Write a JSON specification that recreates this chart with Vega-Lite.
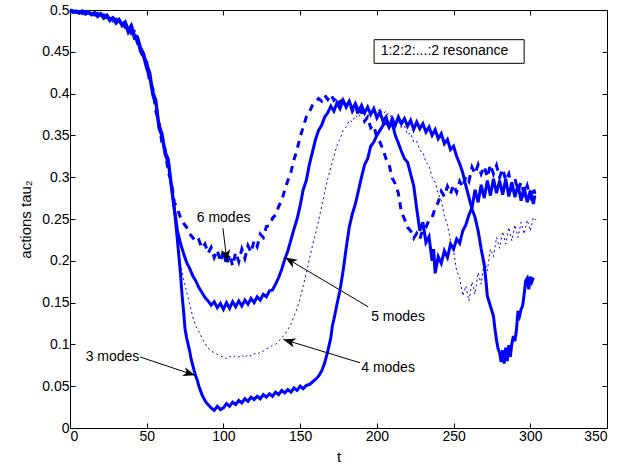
{
  "$schema": "https://vega.github.io/schema/vega-lite/v6.json",
  "width": 537,
  "height": 418,
  "autosize": "none",
  "padding": {"left": 70, "top": 10, "right": 12, "bottom": 42},
  "background": "white",
  "config": {
    "font": "Liberation Sans",
    "view": {"stroke": null},
    "axis": {
      "domainColor": "black", "tickColor": "black", "labelColor": "black", "titleColor": "black",
      "labelFont": "Liberation Sans", "titleFont": "Liberation Sans",
      "labelFontSize": 14, "titleFontSize": 15, "titleFontWeight": "normal",
      "grid": false, "tickSize": -5, "domainWidth": 1, "tickWidth": 1
    }
  },
  "datasets": {
    "s3": [
      {"t":0,"v":0.500},{"t":2,"v":0.498},{"t":4,"v":0.499},{"t":6,"v":0.497},{"t":8,"v":0.499},{"t":10,"v":0.496},{"t":12,"v":0.498},{"t":14,"v":0.495},{"t":16,"v":0.497},{"t":18,"v":0.494},{"t":20,"v":0.496},{"t":22,"v":0.492},{"t":24,"v":0.494},{"t":26,"v":0.489},{"t":28,"v":0.491},{"t":30,"v":0.486},{"t":32,"v":0.489},{"t":34,"v":0.483},{"t":36,"v":0.486},{"t":38,"v":0.476},{"t":40,"v":0.482},{"t":42,"v":0.470},{"t":44,"v":0.468},{"t":46,"v":0.455},{"t":48,"v":0.448},{"t":50,"v":0.435},{"t":52,"v":0.425},{"t":54,"v":0.402},{"t":56,"v":0.392},{"t":58,"v":0.362},{"t":60,"v":0.352},{"t":62,"v":0.330},{"t":64,"v":0.322},{"t":66,"v":0.292},{"t":68,"v":0.262},
      {"t":70,"v":0.225},{"t":71,"v":0.205},{"t":72,"v":0.185},{"t":73,"v":0.160},{"t":74,"v":0.140},{"t":75,"v":0.118},{"t":76,"v":0.108},{"t":77,"v":0.100},{"t":78,"v":0.092},{"t":79,"v":0.082},{"t":80,"v":0.075},{"t":81,"v":0.068},{"t":82,"v":0.062},{"t":83,"v":0.057},{"t":84,"v":0.050},{"t":85,"v":0.045},{"t":86,"v":0.040},{"t":87,"v":0.036},{"t":88,"v":0.033},{"t":89,"v":0.030},{"t":90,"v":0.028},{"t":92,"v":0.024},{"t":94,"v":0.021},{"t":96,"v":0.026},{"t":98,"v":0.022},{"t":100,"v":0.024},{"t":102,"v":0.029},{"t":104,"v":0.026},{"t":106,"v":0.031},{"t":108,"v":0.028},{"t":110,"v":0.033},{"t":112,"v":0.030},{"t":114,"v":0.035},{"t":116,"v":0.032},{"t":118,"v":0.037},{"t":120,"v":0.034},{"t":122,"v":0.038},{"t":124,"v":0.035},{"t":126,"v":0.040},{"t":128,"v":0.037},{"t":130,"v":0.041},{"t":132,"v":0.038},{"t":134,"v":0.043},{"t":136,"v":0.040},{"t":138,"v":0.045},{"t":140,"v":0.042},{"t":142,"v":0.046},{"t":144,"v":0.043},{"t":146,"v":0.048},{"t":148,"v":0.045},{"t":150,"v":0.050},{"t":152,"v":0.047},{"t":154,"v":0.051},{"t":156,"v":0.052},{"t":158,"v":0.055},{"t":160,"v":0.058},{"t":162,"v":0.062},{"t":164,"v":0.068},{"t":166,"v":0.078},{"t":168,"v":0.092},{"t":170,"v":0.108},{"t":171,"v":0.122},{"t":172,"v":0.130},{"t":174,"v":0.148},{"t":176,"v":0.165},{"t":178,"v":0.188},{"t":180,"v":0.215},{"t":182,"v":0.240},{"t":184,"v":0.256},{"t":186,"v":0.268},{"t":188,"v":0.284},{"t":190,"v":0.300},{"t":192,"v":0.315},{"t":194,"v":0.322},{"t":196,"v":0.337},{"t":198,"v":0.342},{"t":200,"v":0.350},{"t":202,"v":0.356},{"t":204,"v":0.362},{"t":206,"v":0.366},{"t":208,"v":0.360},{"t":210,"v":0.370},{"t":212,"v":0.362},{"t":214,"v":0.372},{"t":216,"v":0.364},{"t":218,"v":0.370},{"t":220,"v":0.361},{"t":222,"v":0.368},{"t":224,"v":0.357},{"t":226,"v":0.366},{"t":228,"v":0.358},{"t":230,"v":0.364},{"t":232,"v":0.354},{"t":234,"v":0.360},{"t":236,"v":0.350},{"t":238,"v":0.357},{"t":240,"v":0.346},{"t":242,"v":0.352},{"t":244,"v":0.340},{"t":246,"v":0.345},{"t":248,"v":0.333},{"t":250,"v":0.337},{"t":252,"v":0.325},{"t":254,"v":0.316},{"t":256,"v":0.305},{"t":258,"v":0.290},{"t":260,"v":0.276},{"t":262,"v":0.262},{"t":264,"v":0.252},{"t":266,"v":0.236},{"t":268,"v":0.214},{"t":270,"v":0.195},{"t":271,"v":0.178},{"t":272,"v":0.158},{"t":274,"v":0.146},{"t":276,"v":0.134},{"t":277,"v":0.118},{"t":278,"v":0.105},{"t":279,"v":0.095},{"t":280,"v":0.090},{"t":281,"v":0.079},{"t":282,"v":0.093},{"t":283,"v":0.077},{"t":284,"v":0.096},{"t":285,"v":0.080},{"t":286,"v":0.099},{"t":287,"v":0.085},{"t":288,"v":0.101},{"t":289,"v":0.110},{"t":290,"v":0.104},{"t":291,"v":0.118},{"t":292,"v":0.140},{"t":293,"v":0.134},{"t":294,"v":0.142},{"t":295,"v":0.146},{"t":296,"v":0.160},{"t":297,"v":0.176},{"t":298,"v":0.179},{"t":299,"v":0.166},{"t":300,"v":0.181},{"t":301,"v":0.175},{"t":302,"v":0.180}
    ],
    "s5": [
      {"t":0,"v":0.499},{"t":2,"v":0.497},{"t":4,"v":0.498},{"t":6,"v":0.496},{"t":8,"v":0.498},{"t":10,"v":0.495},{"t":12,"v":0.497},{"t":14,"v":0.494},{"t":16,"v":0.496},{"t":18,"v":0.492},{"t":20,"v":0.495},{"t":22,"v":0.490},{"t":24,"v":0.493},{"t":26,"v":0.487},{"t":28,"v":0.490},{"t":30,"v":0.484},{"t":32,"v":0.488},{"t":34,"v":0.481},{"t":36,"v":0.484},{"t":38,"v":0.473},{"t":40,"v":0.479},{"t":42,"v":0.466},{"t":44,"v":0.465},{"t":46,"v":0.450},{"t":48,"v":0.444},{"t":50,"v":0.430},{"t":52,"v":0.420},{"t":54,"v":0.398},{"t":56,"v":0.388},{"t":58,"v":0.358},{"t":60,"v":0.349},{"t":62,"v":0.327},{"t":64,"v":0.318},{"t":66,"v":0.289},{"t":68,"v":0.262},
      {"t":69,"v":0.250},{"t":70,"v":0.236},{"t":72,"v":0.221},{"t":74,"v":0.209},{"t":76,"v":0.198},{"t":78,"v":0.191},{"t":80,"v":0.182},{"t":82,"v":0.176},{"t":84,"v":0.168},{"t":86,"v":0.162},{"t":88,"v":0.156},{"t":90,"v":0.152},{"t":92,"v":0.147},{"t":94,"v":0.151},{"t":96,"v":0.144},{"t":98,"v":0.149},{"t":100,"v":0.142},{"t":102,"v":0.150},{"t":104,"v":0.143},{"t":106,"v":0.151},{"t":108,"v":0.145},{"t":110,"v":0.152},{"t":112,"v":0.146},{"t":114,"v":0.153},{"t":116,"v":0.148},{"t":118,"v":0.155},{"t":120,"v":0.150},{"t":122,"v":0.157},{"t":124,"v":0.153},{"t":126,"v":0.160},{"t":128,"v":0.157},{"t":130,"v":0.164},{"t":132,"v":0.165},{"t":134,"v":0.172},{"t":136,"v":0.180},{"t":138,"v":0.190},{"t":140,"v":0.202},{"t":142,"v":0.212},{"t":144,"v":0.225},{"t":146,"v":0.238},{"t":148,"v":0.250},{"t":150,"v":0.266},{"t":152,"v":0.285},{"t":154,"v":0.296},{"t":156,"v":0.315},{"t":158,"v":0.330},{"t":160,"v":0.345},{"t":162,"v":0.356},{"t":164,"v":0.362},{"t":166,"v":0.372},{"t":168,"v":0.377},{"t":170,"v":0.385},{"t":172,"v":0.379},{"t":174,"v":0.389},{"t":176,"v":0.382},{"t":178,"v":0.392},{"t":180,"v":0.384},{"t":182,"v":0.391},{"t":184,"v":0.381},{"t":186,"v":0.388},{"t":188,"v":0.379},{"t":190,"v":0.386},{"t":192,"v":0.377},{"t":194,"v":0.384},{"t":196,"v":0.375},{"t":198,"v":0.382},{"t":200,"v":0.371},{"t":202,"v":0.378},{"t":204,"v":0.367},{"t":206,"v":0.372},{"t":208,"v":0.360},{"t":210,"v":0.365},{"t":212,"v":0.350},{"t":214,"v":0.341},{"t":216,"v":0.331},{"t":218,"v":0.322},{"t":220,"v":0.318},{"t":222,"v":0.304},{"t":224,"v":0.290},{"t":226,"v":0.262},{"t":228,"v":0.236},{"t":230,"v":0.246},{"t":232,"v":0.222},{"t":234,"v":0.229},{"t":236,"v":0.200},{"t":237,"v":0.214},{"t":238,"v":0.185},{"t":240,"v":0.205},{"t":242,"v":0.197},{"t":244,"v":0.212},{"t":246,"v":0.204},{"t":248,"v":0.220},{"t":250,"v":0.214},{"t":252,"v":0.226},{"t":254,"v":0.221},{"t":256,"v":0.236},{"t":258,"v":0.243},{"t":260,"v":0.255},{"t":262,"v":0.263},{"t":264,"v":0.285},{"t":266,"v":0.270},{"t":268,"v":0.291},{"t":270,"v":0.275},{"t":272,"v":0.296},{"t":274,"v":0.278},{"t":276,"v":0.298},{"t":278,"v":0.281},{"t":280,"v":0.296},{"t":282,"v":0.279},{"t":284,"v":0.298},{"t":286,"v":0.277},{"t":288,"v":0.294},{"t":290,"v":0.276},{"t":292,"v":0.291},{"t":294,"v":0.272},{"t":296,"v":0.288},{"t":298,"v":0.270},{"t":300,"v":0.284},{"t":302,"v":0.268},{"t":303,"v":0.278}
    ],
    "s6": [
      {"t":0,"v":0.500},{"t":2,"v":0.499},{"t":4,"v":0.497},{"t":6,"v":0.499},{"t":8,"v":0.496},{"t":10,"v":0.498},{"t":12,"v":0.495},{"t":14,"v":0.497},{"t":16,"v":0.494},{"t":18,"v":0.496},{"t":20,"v":0.493},{"t":22,"v":0.494},{"t":24,"v":0.491},{"t":26,"v":0.492},{"t":28,"v":0.487},{"t":30,"v":0.489},{"t":32,"v":0.484},{"t":34,"v":0.486},{"t":36,"v":0.479},{"t":38,"v":0.480},{"t":40,"v":0.472},{"t":42,"v":0.474},{"t":44,"v":0.460},{"t":46,"v":0.458},{"t":48,"v":0.440},{"t":50,"v":0.438},{"t":52,"v":0.412},{"t":54,"v":0.406},{"t":56,"v":0.378},{"t":58,"v":0.366},{"t":60,"v":0.340},{"t":62,"v":0.334},{"t":64,"v":0.306},{"t":66,"v":0.296},{"t":68,"v":0.270},
      {"t":70,"v":0.262},{"t":72,"v":0.252},{"t":74,"v":0.245},{"t":76,"v":0.240},{"t":78,"v":0.232},{"t":80,"v":0.228},{"t":82,"v":0.222},{"t":84,"v":0.225},{"t":86,"v":0.215},{"t":88,"v":0.220},{"t":90,"v":0.209},{"t":92,"v":0.216},{"t":94,"v":0.204},{"t":96,"v":0.213},{"t":98,"v":0.199},{"t":100,"v":0.212},{"t":102,"v":0.195},{"t":104,"v":0.208},{"t":106,"v":0.194},{"t":108,"v":0.210},{"t":110,"v":0.199},{"t":112,"v":0.214},{"t":114,"v":0.203},{"t":116,"v":0.218},{"t":118,"v":0.210},{"t":120,"v":0.224},{"t":122,"v":0.217},{"t":124,"v":0.232},{"t":126,"v":0.228},{"t":128,"v":0.241},{"t":130,"v":0.242},{"t":132,"v":0.251},{"t":134,"v":0.255},{"t":136,"v":0.265},{"t":138,"v":0.272},{"t":140,"v":0.285},{"t":142,"v":0.296},{"t":144,"v":0.306},{"t":146,"v":0.321},{"t":148,"v":0.333},{"t":150,"v":0.348},{"t":152,"v":0.360},{"t":154,"v":0.372},{"t":156,"v":0.378},{"t":158,"v":0.386},{"t":160,"v":0.390},{"t":162,"v":0.394},{"t":164,"v":0.391},{"t":166,"v":0.398},{"t":168,"v":0.393},{"t":170,"v":0.399},{"t":172,"v":0.392},{"t":174,"v":0.396},{"t":176,"v":0.389},{"t":178,"v":0.394},{"t":180,"v":0.385},{"t":182,"v":0.390},{"t":184,"v":0.379},{"t":186,"v":0.386},{"t":188,"v":0.373},{"t":190,"v":0.380},{"t":192,"v":0.367},{"t":194,"v":0.372},{"t":196,"v":0.359},{"t":198,"v":0.362},{"t":200,"v":0.347},{"t":202,"v":0.342},{"t":204,"v":0.333},{"t":206,"v":0.322},{"t":208,"v":0.315},{"t":210,"v":0.299},{"t":212,"v":0.292},{"t":214,"v":0.281},{"t":216,"v":0.258},{"t":218,"v":0.250},{"t":220,"v":0.240},{"t":222,"v":0.236},{"t":224,"v":0.227},{"t":226,"v":0.233},{"t":228,"v":0.226},{"t":230,"v":0.238},{"t":232,"v":0.240},{"t":234,"v":0.249},{"t":236,"v":0.252},{"t":238,"v":0.263},{"t":240,"v":0.270},{"t":242,"v":0.283},{"t":244,"v":0.277},{"t":246,"v":0.289},{"t":248,"v":0.280},{"t":250,"v":0.291},{"t":252,"v":0.282},{"t":254,"v":0.295},{"t":256,"v":0.288},{"t":258,"v":0.301},{"t":260,"v":0.295},{"t":262,"v":0.312},{"t":264,"v":0.304},{"t":266,"v":0.315},{"t":268,"v":0.304},{"t":270,"v":0.313},{"t":272,"v":0.300},{"t":274,"v":0.315},{"t":276,"v":0.304},{"t":278,"v":0.314},{"t":280,"v":0.300},{"t":282,"v":0.310},{"t":284,"v":0.296},{"t":286,"v":0.304},{"t":288,"v":0.288},{"t":290,"v":0.298},{"t":292,"v":0.284},{"t":294,"v":0.294},{"t":296,"v":0.280},{"t":298,"v":0.290},{"t":300,"v":0.277},{"t":302,"v":0.288},{"t":303,"v":0.280}
    ],
    "s4": [
      {"t":0,"v":0.499},{"t":2,"v":0.498},{"t":4,"v":0.498},{"t":6,"v":0.497},{"t":8,"v":0.497},{"t":10,"v":0.496},{"t":12,"v":0.496},{"t":14,"v":0.495},{"t":16,"v":0.495},{"t":18,"v":0.494},{"t":20,"v":0.493},{"t":22,"v":0.492},{"t":24,"v":0.491},{"t":26,"v":0.489},{"t":28,"v":0.488},{"t":30,"v":0.486},{"t":32,"v":0.485},{"t":34,"v":0.483},{"t":36,"v":0.481},{"t":38,"v":0.478},{"t":40,"v":0.475},{"t":42,"v":0.470},{"t":44,"v":0.463},{"t":46,"v":0.455},{"t":48,"v":0.445},{"t":50,"v":0.434},{"t":52,"v":0.420},{"t":54,"v":0.403},{"t":56,"v":0.386},{"t":58,"v":0.366},{"t":60,"v":0.348},{"t":62,"v":0.330},{"t":64,"v":0.312},{"t":66,"v":0.290},{"t":68,"v":0.262},
      {"t":70,"v":0.225},{"t":72,"v":0.196},{"t":74,"v":0.178},{"t":76,"v":0.163},{"t":78,"v":0.148},{"t":80,"v":0.133},{"t":82,"v":0.122},{"t":84,"v":0.115},{"t":86,"v":0.108},{"t":88,"v":0.101},{"t":90,"v":0.096},{"t":92,"v":0.092},{"t":94,"v":0.090},{"t":96,"v":0.088},{"t":98,"v":0.086},{"t":100,"v":0.085},{"t":102,"v":0.083},{"t":104,"v":0.086},{"t":106,"v":0.084},{"t":108,"v":0.087},{"t":110,"v":0.085},{"t":112,"v":0.087},{"t":114,"v":0.084},{"t":116,"v":0.088},{"t":118,"v":0.086},{"t":120,"v":0.089},{"t":122,"v":0.088},{"t":124,"v":0.091},{"t":126,"v":0.092},{"t":128,"v":0.095},{"t":130,"v":0.096},{"t":132,"v":0.099},{"t":134,"v":0.100},{"t":136,"v":0.104},{"t":138,"v":0.108},{"t":140,"v":0.112},{"t":142,"v":0.118},{"t":144,"v":0.124},{"t":146,"v":0.134},{"t":148,"v":0.143},{"t":150,"v":0.155},{"t":152,"v":0.170},{"t":154,"v":0.185},{"t":156,"v":0.202},{"t":158,"v":0.218},{"t":160,"v":0.232},{"t":162,"v":0.248},{"t":164,"v":0.265},{"t":166,"v":0.282},{"t":168,"v":0.298},{"t":170,"v":0.312},{"t":172,"v":0.325},{"t":174,"v":0.338},{"t":176,"v":0.346},{"t":178,"v":0.356},{"t":180,"v":0.360},{"t":182,"v":0.368},{"t":184,"v":0.366},{"t":186,"v":0.374},{"t":188,"v":0.371},{"t":190,"v":0.378},{"t":192,"v":0.374},{"t":194,"v":0.381},{"t":196,"v":0.376},{"t":198,"v":0.382},{"t":200,"v":0.377},{"t":202,"v":0.382},{"t":204,"v":0.376},{"t":206,"v":0.379},{"t":208,"v":0.372},{"t":210,"v":0.374},{"t":212,"v":0.366},{"t":214,"v":0.368},{"t":216,"v":0.359},{"t":218,"v":0.361},{"t":220,"v":0.351},{"t":222,"v":0.353},{"t":224,"v":0.342},{"t":226,"v":0.343},{"t":228,"v":0.332},{"t":230,"v":0.330},{"t":232,"v":0.318},{"t":234,"v":0.314},{"t":236,"v":0.300},{"t":238,"v":0.294},{"t":240,"v":0.280},{"t":242,"v":0.272},{"t":244,"v":0.254},{"t":246,"v":0.243},{"t":248,"v":0.224},{"t":250,"v":0.212},{"t":252,"v":0.188},{"t":254,"v":0.180},{"t":256,"v":0.158},{"t":258,"v":0.170},{"t":260,"v":0.152},{"t":262,"v":0.175},{"t":264,"v":0.160},{"t":266,"v":0.186},{"t":268,"v":0.172},{"t":270,"v":0.200},{"t":272,"v":0.188},{"t":274,"v":0.214},{"t":276,"v":0.205},{"t":278,"v":0.228},{"t":280,"v":0.215},{"t":282,"v":0.235},{"t":284,"v":0.220},{"t":286,"v":0.240},{"t":288,"v":0.224},{"t":290,"v":0.243},{"t":292,"v":0.228},{"t":294,"v":0.246},{"t":296,"v":0.232},{"t":298,"v":0.249},{"t":300,"v":0.236},{"t":302,"v":0.252},{"t":304,"v":0.248}
    ],
    "ann": [
      {"label":"6 modes","tx":100.1,"ty":0.251,"x0":99.7,"y0":0.239,"x1":102.3,"y1":0.199},
      {"label":"5 modes","tx":213.8,"ty":0.133,"x0":194.3,"y0":0.145,"x1":140.2,"y1":0.204},
      {"label":"4 modes","tx":207.3,"ty":0.072,"x0":189.0,"y0":0.078,"x1":139.1,"y1":0.106},
      {"label":"3 modes","tx":27.7,"ty":0.085,"x0":45.6,"y0":0.085,"x1":81.5,"y1":0.063}
    ],
    "box": [
      {"label":"1:2:2:...:2 resonance","x0":198.2,"x1":296.0,"y0":0.4362,"y1":0.4645,"tx":202.5,"ty":0.4504}
    ]
  },
  "layer": [
    {
      "data": {"name": "box"},
      "mark": {"type": "rect", "fill": "white", "stroke": "black", "strokeWidth": 1},
      "encoding": {
        "x": {"field": "x0", "type": "quantitative", "scale": {"domain": [0, 350], "nice": false, "zero": false},
              "axis": {"orient": "top", "values": [0,50,100,150,200,250,300,350], "labels": false, "title": null}},
        "x2": {"field": "x1"},
        "y": {"field": "y0", "type": "quantitative", "scale": {"domain": [0, 0.5], "nice": false, "zero": false},
              "axis": {"orient": "right", "values": [0,0.05,0.1,0.15,0.2,0.25,0.3,0.35,0.4,0.45,0.5], "labels": false, "title": null}},
        "y2": {"field": "y1"}
      }
    },
    {
      "data": {"name": "box"},
      "mark": {"type": "text", "align": "left", "baseline": "middle", "fontSize": 14, "font": "Liberation Sans", "color": "black"},
      "encoding": {
        "x": {"field": "tx", "type": "quantitative", "axis": null},
        "y": {"field": "ty", "type": "quantitative", "axis": null},
        "text": {"field": "label"}
      }
    },
    {
      "data": {"name": "s6"},
      "mark": {"type": "line", "color": "#0000ff", "strokeWidth": 3, "strokeDash": [7, 6], "strokeCap": "butt"},
      "encoding": {
        "x": {"field": "t", "type": "quantitative", "scale": {"domain": [0, 350], "nice": false, "zero": false},
              "axis": {"orient": "bottom", "values": [0,50,100,150,200,250,300,350], "title": "t", "labelPadding": 6, "titlePadding": 6}},
        "y": {"field": "v", "type": "quantitative", "scale": {"domain": [0, 0.5], "nice": false, "zero": false},
              "axis": {"orient": "left", "values": [0,0.05,0.1,0.15,0.2,0.25,0.3,0.35,0.4,0.45,0.5], "format": "~g", "title": "actions tau₂", "labelPadding": 6, "titlePadding": 8}}
      }
    },
    {
      "data": {"name": "s5"},
      "mark": {"type": "line", "color": "#0000ff", "strokeWidth": 3},
      "encoding": {
        "x": {"field": "t", "type": "quantitative", "axis": null},
        "y": {"field": "v", "type": "quantitative", "axis": null}
      }
    },
    {
      "data": {"name": "s4"},
      "mark": {"type": "line", "color": "#0000ff", "strokeWidth": 1, "strokeDash": [2, 3], "strokeCap": "butt"},
      "encoding": {
        "x": {"field": "t", "type": "quantitative", "axis": null},
        "y": {"field": "v", "type": "quantitative", "axis": null}
      }
    },
    {
      "data": {"name": "s3"},
      "mark": {"type": "line", "color": "#0000ff", "strokeWidth": 3},
      "encoding": {
        "x": {"field": "t", "type": "quantitative", "axis": null},
        "y": {"field": "v", "type": "quantitative", "axis": null}
      }
    },
    {
      "data": {"name": "ann"},
      "mark": {"type": "rule", "color": "black", "strokeWidth": 1},
      "encoding": {
        "x": {"field": "x0", "type": "quantitative", "axis": null},
        "y": {"field": "y0", "type": "quantitative", "axis": null},
        "x2": {"field": "x1"},
        "y2": {"field": "y1"}
      }
    },
    {
      "data": {"name": "ann"},
      "mark": {"type": "text", "align": "center", "baseline": "middle", "fontSize": 14, "font": "Liberation Sans", "color": "black"},
      "encoding": {
        "x": {"field": "tx", "type": "quantitative", "axis": null},
        "y": {"field": "ty", "type": "quantitative", "axis": null},
        "text": {"field": "label"}
      }
    },
    {
      "data": {"name": "ann"},
      "transform": [{"filter": "datum.label == '6 modes'"}],
      "mark": {"type": "point", "shape": "M0,0L0.7,1.8L0,1.3L-0.7,1.8Z", "filled": true, "color": "black", "opacity": 1, "size": 180, "angle": 173.5},
      "encoding": {
        "x": {"field": "x1", "type": "quantitative", "axis": null},
        "y": {"field": "y1", "type": "quantitative", "axis": null}
      }
    },
    {
      "data": {"name": "ann"},
      "transform": [{"filter": "datum.label == '5 modes'"}],
      "mark": {"type": "point", "shape": "M0,0L0.7,1.8L0,1.3L-0.7,1.8Z", "filled": true, "color": "black", "opacity": 1, "size": 180, "angle": 301},
      "encoding": {
        "x": {"field": "x1", "type": "quantitative", "axis": null},
        "y": {"field": "y1", "type": "quantitative", "axis": null}
      }
    },
    {
      "data": {"name": "ann"},
      "transform": [{"filter": "datum.label == '4 modes'"}],
      "mark": {"type": "point", "shape": "M0,0L0.7,1.8L0,1.3L-0.7,1.8Z", "filled": true, "color": "black", "opacity": 1, "size": 180, "angle": 287},
      "encoding": {
        "x": {"field": "x1", "type": "quantitative", "axis": null},
        "y": {"field": "y1", "type": "quantitative", "axis": null}
      }
    },
    {
      "data": {"name": "ann"},
      "transform": [{"filter": "datum.label == '3 modes'"}],
      "mark": {"type": "point", "shape": "M0,0L0.7,1.8L0,1.3L-0.7,1.8Z", "filled": true, "color": "black", "opacity": 1, "size": 180, "angle": 108},
      "encoding": {
        "x": {"field": "x1", "type": "quantitative", "axis": null},
        "y": {"field": "y1", "type": "quantitative", "axis": null}
      }
    }
  ],
  "resolve": {"axis": {"x": "independent", "y": "independent"}}
}
